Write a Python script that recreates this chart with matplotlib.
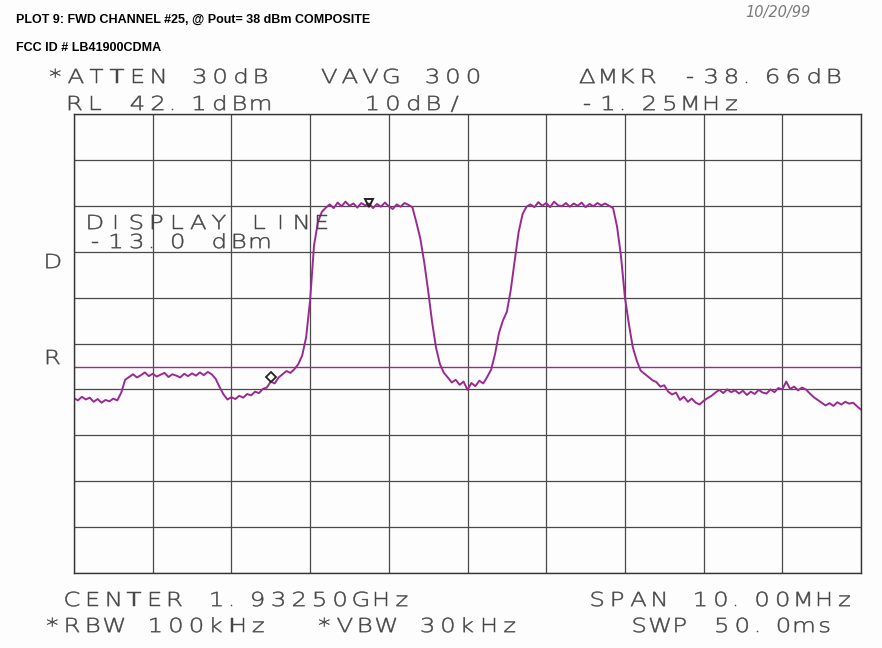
import numpy as np
import matplotlib.pyplot as plt
from matplotlib.textpath import TextPath
from matplotlib.patches import PathPatch
from matplotlib.font_manager import FontProperties
from matplotlib.transforms import Affine2D

# sweep settings
center_ghz = 1.93250
span_mhz = 10.0
ref_level = 42.1      # dBm, top of screen
db_per_div = 10.0
display_line = -13.0  # dBm

# trace, 201 points across the span (dBm)
level = [
    -19.8, -20.3, -19.5, -20.1, -19.7, -20.6, -20.0, -20.8, -20.2, -20.5,
    -19.9, -20.3, -18.6, -15.8, -15.2, -14.6, -15.3, -14.8, -14.2, -15.0,
    -14.5, -15.1, -14.7, -14.3, -15.2, -14.6, -14.9, -15.3, -14.5, -15.0,
    -14.4, -14.9, -14.2, -14.8, -14.1, -14.6, -15.6, -17.4, -19.0, -20.1,
    -19.6, -20.0, -19.3, -19.7, -18.9, -19.2, -18.4, -18.7, -17.8, -17.5,
    -16.2, -16.6, -15.3, -14.6, -13.9, -14.3, -13.5, -12.4, -10.5, -6.5,
    1.5, 13.5, 18.6, 20.8, 21.7, 22.4, 21.6, 22.8, 22.0, 23.0,
    22.1, 22.6, 21.7, 22.7, 22.2, 22.6, 21.6, 22.5, 21.9, 22.8,
    22.0, 21.4, 22.4, 21.9, 22.7, 22.3, 21.8, 18.5, 15.0, 9.8,
    3.6, -3.2, -8.8, -12.4, -14.3, -15.3, -16.4, -15.8, -16.9, -16.2,
    -18.0, -16.5, -17.2, -16.0, -16.6, -15.2, -13.6, -10.2, -5.6, -2.9,
    -1.0, 3.8, 10.2, 16.4, 20.3, 21.9, 22.4, 21.8, 22.9, 22.1,
    22.7, 21.8, 23.0, 22.2, 22.0, 22.7, 21.9, 22.6, 22.1, 22.8,
    21.8, 22.5, 22.0, 22.7, 22.2, 22.6, 22.1, 21.6, 17.6, 11.2,
    2.2, -3.6, -8.7, -11.6, -13.8, -14.5, -15.2, -15.9, -16.3, -17.3,
    -17.0, -18.4, -19.0, -18.6, -20.2, -19.5, -20.6, -19.9, -20.8, -21.2,
    -20.4, -19.8, -19.3, -18.6, -18.0, -18.7, -17.9, -18.5, -18.1, -18.8,
    -18.2, -19.1, -18.4, -18.9, -18.0, -18.6, -18.8, -17.9, -18.5, -17.6,
    -17.9, -16.2, -17.8, -17.3, -18.1, -17.5, -17.9, -18.8, -19.6, -20.2,
    -20.8, -21.4, -20.9, -21.5, -20.7, -21.2, -20.6, -21.0, -20.8, -21.6,
    -22.3,
]
freq = np.linspace(-span_mhz / 2, span_mhz / 2, len(level))  # MHz offset

# markers
mkr_f, mkr_lvl = -1.25, 22.7
dmkr_f, dmkr_lvl = -2.50, -15.3

header1 = [("*ATTEN 30dB", 48, 76), ("VAVG 300", 322, 76), ("\u0394MKR -38.66dB", 580, 76)]
header2 = [("RL 42.1dBm", 68, 103), ("10dB/", 365, 103), ("-1.25MHz", 580, 103)]
footer1 = [("CENTER %.5fGHz" % center_ghz, 65, 599), ("SPAN %.2fMHz" % span_mhz, 590, 599)]
footer2 = [("*RBW 100kHz", 45, 625), ("*VBW 30kHz", 317, 625), ("SWP 50.0ms", 632, 625)]
dline_txt = [("DISPLAY LINE", 88, 222), ("%.1f dBm" % display_line, 88, 241)]

W, H = 882, 648
trace_col = '#9a2a92'
ink = '#464646'

fig = plt.figure(figsize=(W / 100, H / 100), dpi=100)
fig.patch.set_facecolor('#fdfdfd')

ax = fig.add_axes([74 / W, 1 - 573 / H, (861 - 74) / W, (573 - 114) / H])
ax.set_facecolor('#fdfdfd')
bottom = ref_level - 10 * db_per_div
ax.set_xlim(-span_mhz / 2, span_mhz / 2)
ax.set_ylim(bottom, ref_level)
ax.set_xticks(np.linspace(-span_mhz / 2, span_mhz / 2, 11))
ax.set_yticks(np.linspace(bottom, ref_level, 11))
ax.tick_params(length=0, labelbottom=False, labelleft=False)
ax.grid(True, color='#4a4a4a', lw=0.9)
for sp in ax.spines.values():
    sp.set_color('#333333')
    sp.set_linewidth(1.0)

ax.axhline(display_line, color=trace_col, lw=1.0)
ax.plot(freq, level, color=trace_col, lw=1.4)
ax.plot(mkr_f, mkr_lvl, marker='v', ms=6, mfc='none', mec='#222222', mew=1.4)
ax.plot(dmkr_f, dmkr_lvl, marker='D', ms=5, mfc='none', mec='#222222', mew=1.3)

# overlay in pixel units for the plotter lettering
ov = fig.add_axes([0, 0, 1, 1])
ov.set_xlim(0, W)
ov.set_ylim(0, H)
ov.axis('off')
ov.patch.set_alpha(0)

fp = FontProperties(family='DejaVu Sans', weight='light')


def plotter_text(s, px, py, adv=20.6, size=19.5, sx=1.25, cell=14.5):
    # fixed pitch, widened glyphs like the pen plotter font
    cap = 0.73 * size
    for k, ch in enumerate(s):
        if ch == ' ':
            continue
        tp = TextPath((0, 0), ch, size=size, prop=fp)
        bb = tp.get_extents()
        w = bb.width * sx
        if ch == '.':
            x0 = px + k * adv + 1 - bb.x0 * sx
        else:
            x0 = px + k * adv + (cell - w) / 2 - bb.x0 * sx
        path = Affine2D().scale(sx, 1).translate(x0, H - py - cap / 2).transform_path(tp)
        ov.add_patch(PathPatch(path, fc=ink, ec=ink, lw=0.35))


for s, x, y in header1 + header2 + footer1 + footer2 + dline_txt:
    plotter_text(s, x, y)
plotter_text("D", 46, 261)
plotter_text("R", 46, 357)

fig.text(16 / W, 1 - 20 / H, "PLOT 9: FWD CHANNEL #25, @ Pout= 38 dBm COMPOSITE",
         fontsize=9, family='Liberation Sans', weight='bold', va='center')
fig.text(16 / W, 1 - 48 / H, "FCC ID # LB41900CDMA",
         fontsize=9, family='Liberation Sans', weight='bold', va='center')
fig.text(745 / W, 1 - 13 / H, "10/20/99", fontsize=10.5, style='italic',
         color='#7a7a7a', va='center')

fig.savefig('out.png', dpi=100, facecolor=fig.get_facecolor())
